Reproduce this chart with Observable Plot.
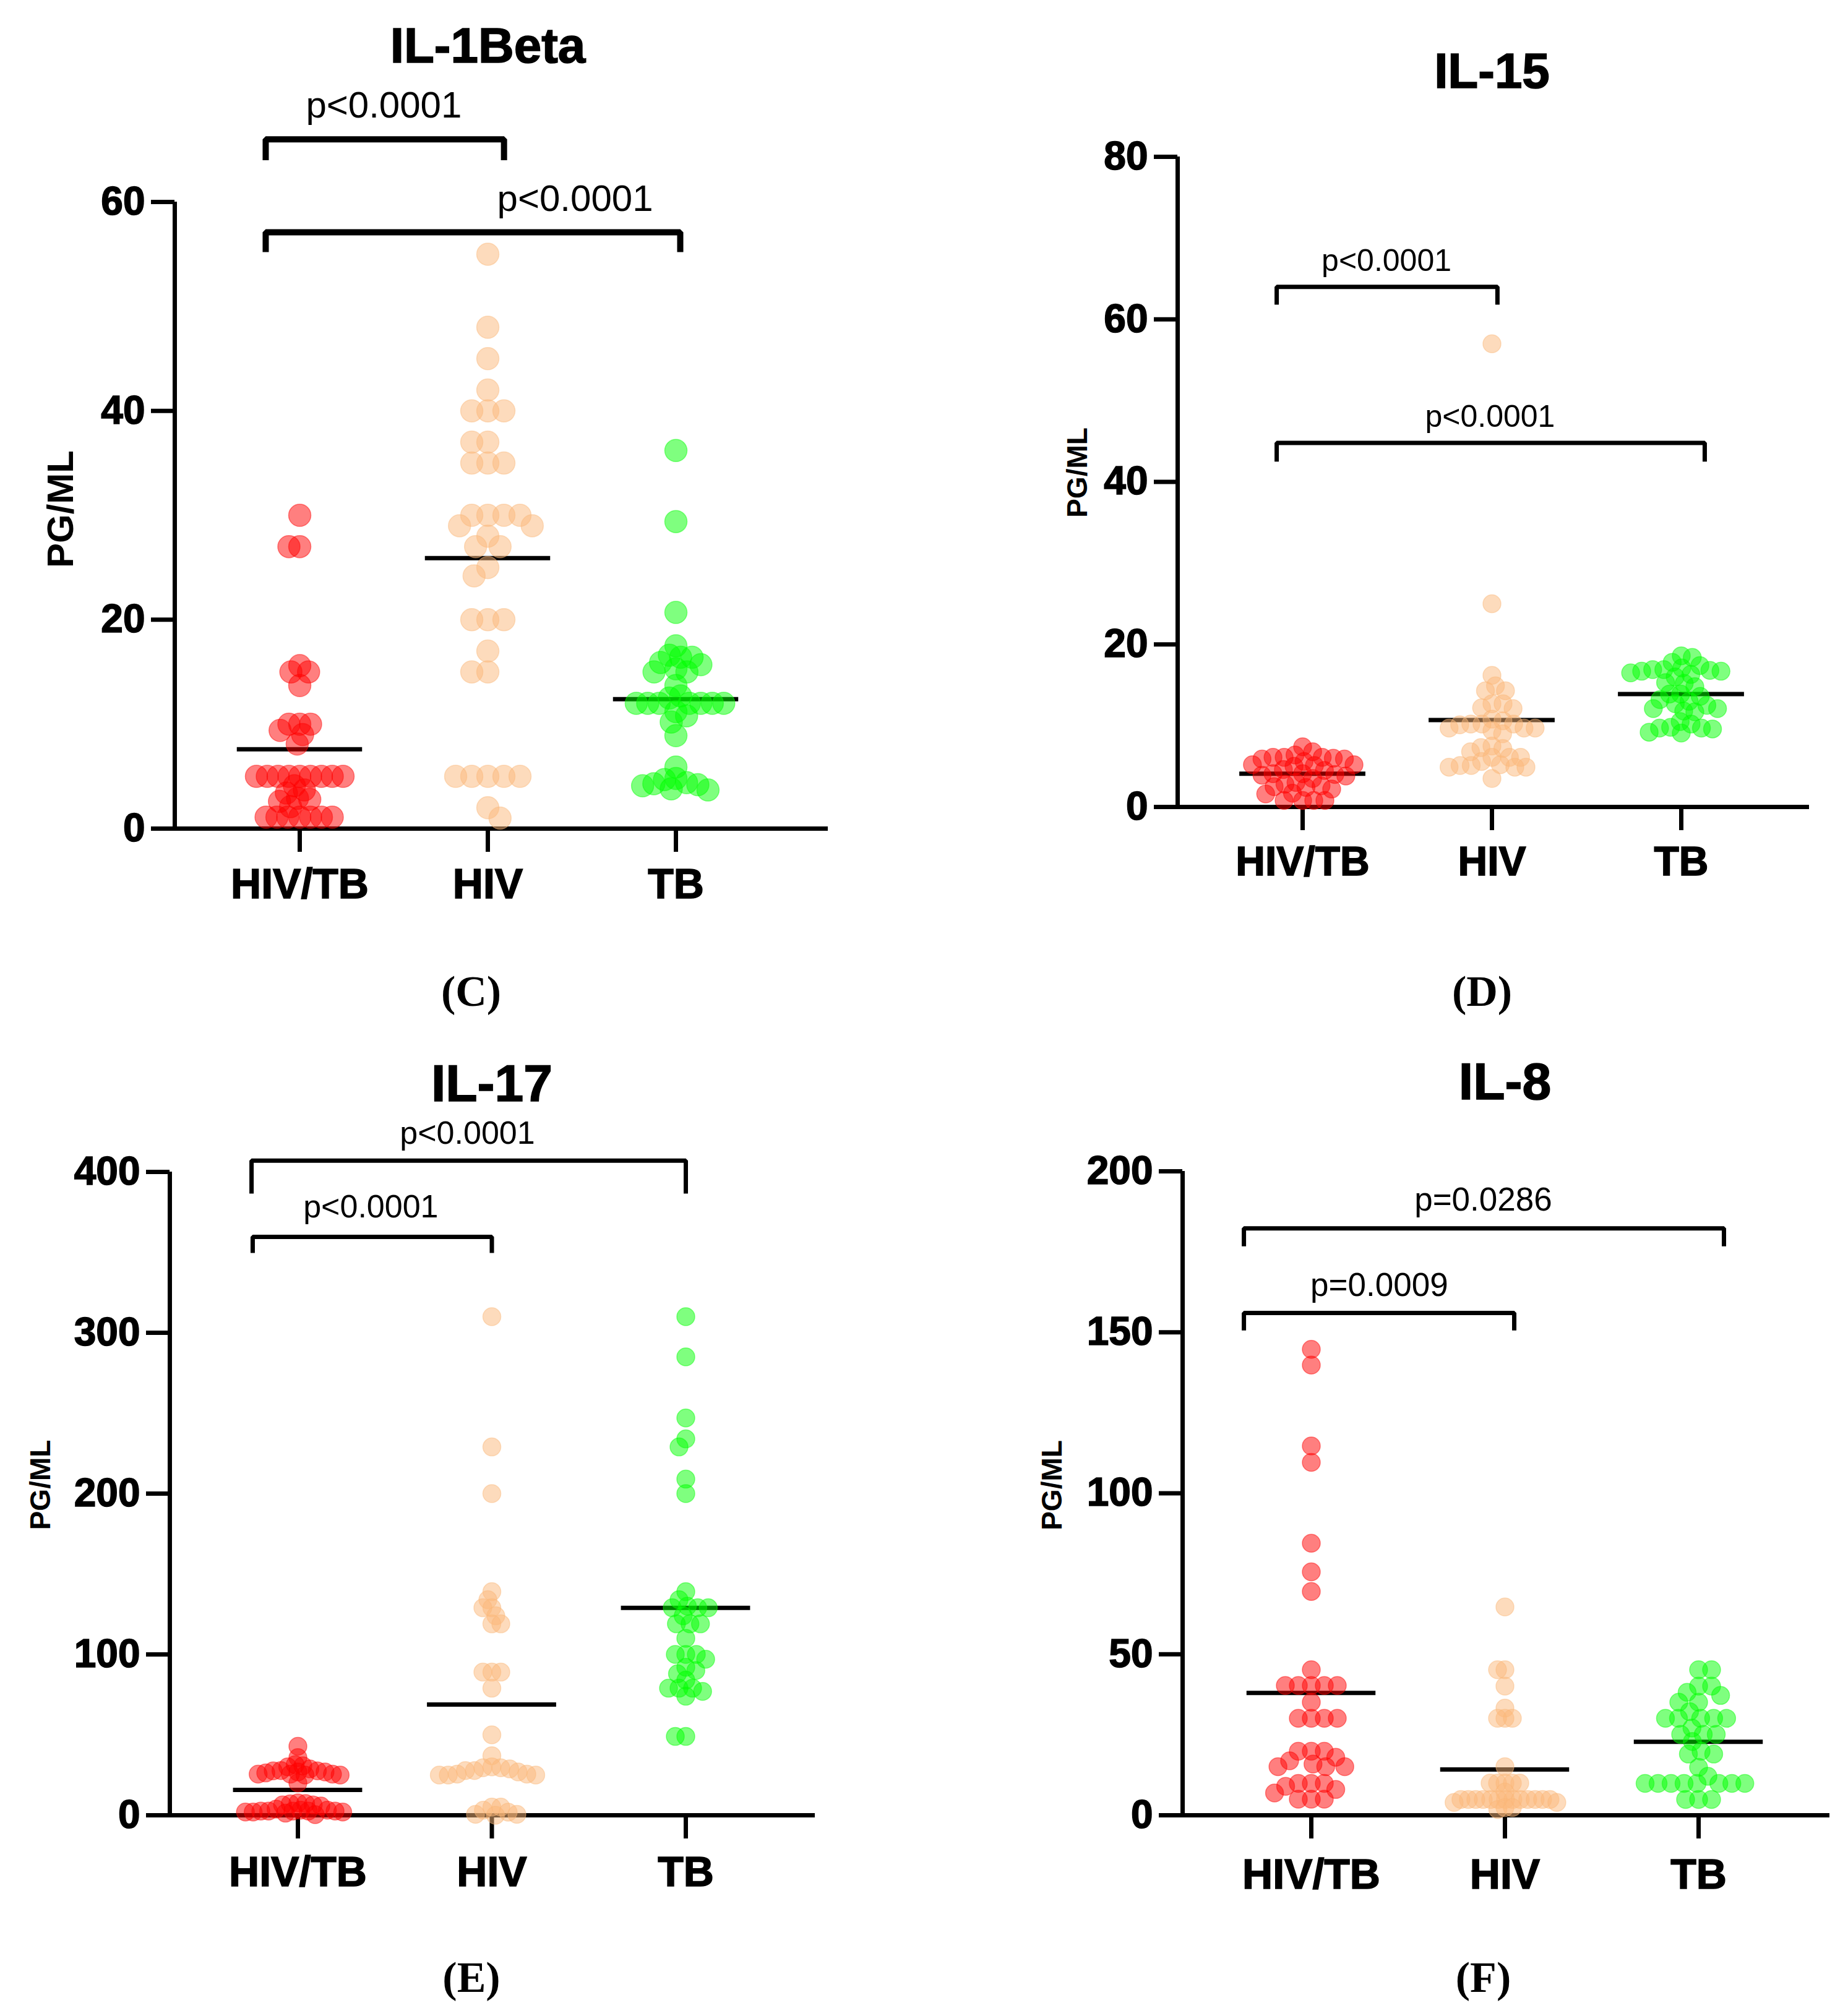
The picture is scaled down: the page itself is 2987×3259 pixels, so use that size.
<!DOCTYPE html>
<html>
<head>
<meta charset="utf-8">
<script src="https://cdn.jsdelivr.net/npm/d3@7"></script>
<script src="https://cdn.jsdelivr.net/npm/@observablehq/plot@0.6"></script>
<style>
html, body { margin: 0; padding: 0; background: #fff; }
#root { position: relative; width: 2987px; height: 3259px; background: #fff; overflow: hidden; }
.panel { position: absolute; }
.panel svg { max-width: none !important; }
.panel svg g[aria-label="y-axis tick label"] text,
.panel svg g[aria-label="x-axis tick label"] text,
.panel svg g.heavy text { stroke: #000; stroke-width: 1.6px; paint-order: stroke; }
</style>
</head>
<body>
<div id="root"></div>
<script>
// ---------- categories & colours ----------
const groups = ["HIV/TB", "HIV", "TB"];
const groupColors = ["#FF0000", "#FBB779", "#00FF00"];

// ---------- (C) IL-1Beta ----------
const cTitle = "IL-1Beta";
const cYTicks = [0, 20, 40, 60];
const cHivTb = [30, 27, 27, 15.6, 15, 15, 13.7, 10, 10, 10, 9.4, 9, 8.1, 5, 5, 5, 5, 5, 5, 5, 5, 5, 4.1, 3.7, 3.4, 2.9, 2.8, 2.6, 2.1, 1.1, 1.1, 1.1, 1.1, 1.1, 1.1, 1.1];
const cHiv = [55, 48, 45, 42, 40, 40, 40, 37, 37, 35, 35, 35, 30, 30, 30, 30, 29, 29, 28, 27, 27, 25, 24.2, 20, 20, 20, 17, 15, 15, 5, 5, 5, 5, 5, 2, 1];
const cTb = [36.2, 29.4, 20.7, 17.5, 16.4, 16.4, 16.6, 15.7, 15.9, 15, 15, 15.3, 13.7, 12.7, 12.5, 12, 12, 12, 12, 12, 12, 12, 10.8, 11.2, 10.2, 8.9, 5.9, 4.8, 4.3, 4.2, 4.1, 4.4, 4.7, 3.8, 3.7];
const cMeans = [7.6, 25.9, 12.4];
const cBrackets = [
  {id: "c1", from: 0.819, to: 2.086, top: 66.0, leg: 64.0, label: "p<0.0001", lx: 1.447, ly: 69.2},
  {id: "c2", from: 0.819, to: 3.023, top: 57.1, leg: 55.2, label: "p<0.0001", lx: 2.464, ly: 60.3}
];

// ---------- (D) IL-15 ----------
const dTitle = "IL-15";
const dYTicks = [0, 20, 40, 60, 80];
const dHivTb = [7.4, 6.8, 6.4, 6.1, 6.1, 6.1, 6.0, 5.9, 5.9, 5.6, 5.2, 5.2, 5.1, 5.0, 4.6, 4.5, 4.1, 4.1, 4.0, 3.9, 3.8, 3.5, 3.0, 2.8, 2.6, 2.5, 2.4, 2.2, 1.7, 1.6, 0.8, 0.8, 0.8, 0.8];
const dHiv = [57, 25, 16.2, 14.9, 14.3, 14.3, 12.7, 12.7, 12.2, 12.1, 10.8, 10.6, 10.2, 10.2, 10.2, 10.1, 9.7, 9.7, 9.7, 9.4, 9.0, 7.5, 7.3, 7.2, 6.8, 6.1, 6.1, 6.1, 5.6, 5.2, 5.1, 5.1, 4.9, 4.9, 4.9, 3.5];
const dTb = [18.6, 18.4, 17.8, 17.4, 17.1, 16.9, 16.9, 16.8, 16.7, 16.7, 16.5, 16.3, 16.0, 15.3, 15.2, 14.8, 13.9, 13.9, 13.6, 13.2, 13.0, 12.7, 12.5, 12.1, 12.1, 11.8, 11.7, 10.5, 10.2, 9.8, 9.7, 9.7, 9.6, 9.2, 9.1];
const dMeans = [4.1, 10.7, 13.9];
const dBrackets = [
  {id: "d1", from: 0.863, to: 2.029, top: 64.0, leg: 61.8, label: "p<0.0001", lx: 1.443, ly: 67.2},
  {id: "d2", from: 0.863, to: 3.124, top: 44.8, leg: 42.5, label: "p<0.0001", lx: 1.99, ly: 48.0}
];

// ---------- (E) IL-17 ----------
const eTitle = "IL-17";
const eYTicks = [0, 100, 200, 300, 400];
const eHivTb = [42.9, 35.9, 31.4, 30.8, 30.1, 28.8, 27.8, 27.6, 27.6, 26.9, 26.9, 26.3, 25.6, 25.6, 25.6, 25.0, 25.0, 20.1, 7.7, 7.3, 7.1, 6.4, 6.4, 5.8, 3.8, 3.2, 3.2, 2.6, 2.6, 2.6, 2.6, 2.6, 2.0, 2.0, 2.0, 1.3, 0.4];
const eHiv = [310, 229, 200, 139, 134, 129, 129, 124, 119, 119, 89, 89, 89, 79, 50, 37, 30.1, 29.5, 29.5, 28.8, 27.8, 27.8, 26.9, 25.6, 25.6, 25, 25, 25, 5.1, 5.1, 3.2, 1.9, 0.6, 0.6, 0];
const eTb = [310, 285, 247, 234, 229, 209, 200, 139, 134, 130, 129, 129, 129, 124, 119, 119, 119, 110, 100, 100, 100, 97, 92, 90, 88, 84, 79, 79, 79, 77, 74, 49, 49];
const eMeans = [15.8, 68.8, 128.9];
const eBrackets = [
  {id: "e1", from: 0.761, to: 3.0, top: 407, leg: 386.5, label: "p<0.0001", lx: 1.874, ly: 423.8},
  {id: "e2", from: 0.767, to: 2.0, top: 359.6, leg: 349.6, label: "p<0.0001", lx: 1.376, ly: 378}
];

// ---------- (F) IL-8 ----------
const fTitle = "IL-8";
const fYTicks = [0, 50, 100, 150, 200];
const fHivTb = [144.7, 139.8, 114.7, 109.6, 84.5, 75.6, 69.5, 45.2, 40.3, 40.3, 40.3, 40.3, 40.3, 35.1, 30.1, 30.1, 30.1, 30.1, 19.9, 19.9, 19.9, 18.0, 16.9, 15.9, 15.1, 15.1, 15.1, 9.9, 9.9, 9.9, 9.0, 8.0, 6.9, 5.0, 5.0, 5.0];
const fHiv = [64.7, 45.2, 45.2, 40.1, 33.3, 30.1, 30.1, 30.1, 15.1, 10, 10, 10, 10, 10, 7.2, 4.9, 4.9, 4.9, 4.9, 4.9, 4.9, 4.9, 4.9, 4.9, 4.9, 4.9, 4.9, 4.9, 4.0, 4.0, 2.4, 2.4, 1.8];
const fTb = [45.2, 45.2, 40.1, 40.1, 38.2, 37.2, 35.1, 35.1, 32.2, 30.1, 30.1, 30.1, 30.1, 30.1, 27.1, 25.1, 25.1, 25.1, 22.9, 19.9, 19.0, 19.0, 14.9, 12.1, 9.9, 9.9, 9.9, 9.9, 9.9, 9.9, 9.9, 9.9, 4.9, 4.9, 4.9];
const fMeans = [38.0, 14.2, 22.8];
const fBrackets = [
  {id: "f1", from: 0.652, to: 3.131, top: 182.3, leg: 176.7, label: "p=0.0286", lx: 1.888, ly: 191},
  {id: "f2", from: 0.652, to: 2.048, top: 156, leg: 150.6, label: "p=0.0009", lx: 1.351, ly: 164.6}
];

// ---------- swarm layout (horizontal spreading of points with close values) ----------
function place(values, k, sep) {
  const idx = d3.range(values.length).sort((a, b) => values[b] - values[a]);
  const placed = [];
  const xs = new Array(values.length);
  let flip = 1;
  for (const i of idx) {
    const y = values[i] * k;
    const cands = [0];
    for (const p of placed) {
      const dy = y - p.y;
      if (Math.abs(dy) < sep) {
        const dx = Math.sqrt(sep * sep - dy * dy);
        cands.push(p.x + dx, p.x - dx);
      }
    }
    cands.sort((a, b) => (Math.abs(a) - Math.abs(b)) || (a - b) * flip);
    let x = cands.find(c => placed.every(p => (c - p.x) ** 2 + (y - p.y) ** 2 >= sep * sep - 1e-6));
    if (x === undefined) x = d3.max(cands);
    flip = -flip;
    placed.push({x, y});
    xs[i] = x;
  }
  return xs;
}
function swarm(values, k, sepMax, maxHalf) {
  for (let sep = sepMax; sep >= 4; sep -= 0.5) {
    const xs = place(values, k, sep);
    if (d3.max(xs, Math.abs) <= maxHalf) return xs;
  }
  return place(values, k, 4);
}

const FONT = "'Liberation Sans', Arial, Helvetica, sans-serif";

function panel(cfg) {
  const {left, top, width, height, frameL, frameR, frameT, frameB, cats, yMax, yTicks,
         series, means, brackets, title} = cfg;
  const step = (cats[2] - cats[0]) / 2;
  const xDomain = [1 - (cats[0] - frameL) / step, 3 + (frameR - cats[2]) / step];
  const mL = frameL - left, mR = left + width - frameR, mT = frameT - top, mB = top + height - frameB;
  const k = (frameB - frameT) / yMax;

  const dotMarks = series.map((vals, g) => {
    const offs = swarm(vals, k, cfg.sep, cfg.maxHalf);
    const pts = vals.map((v, j) => ({group: groups[g], pos: g + 1 + offs[j] / step, value: v}));
    return Plot.dot(pts, {x: "pos", y: "value", r: cfg.r, fill: groupColors[g], fillOpacity: 0.5,
      stroke: groupColors[g], strokeOpacity: 0.45, strokeWidth: 1.5});
  });

  const bracketPts = brackets.flatMap(b => [
    {id: b.id, x: b.from, y: b.leg}, {id: b.id, x: b.from, y: b.top},
    {id: b.id, x: b.to, y: b.top}, {id: b.id, x: b.to, y: b.leg}
  ]);

  const svg = Plot.plot({
    width, height,
    marginLeft: mL, marginRight: mR, marginTop: mT, marginBottom: mB,
    style: {fontFamily: FONT, background: "transparent", overflow: "visible"},
    x: {type: "linear", domain: xDomain},
    y: {type: "linear", domain: [0, yMax]},
    marks: [
      Plot.axisY({ticks: yTicks, tickSize: 38, tickPadding: 10, fontSize: cfg.tickFont, fontWeight: "bold",
        strokeWidth: 7, tickFormat: d3.format("d"), label: null}),
      Plot.axisX({ticks: [1, 2, 3], tickFormat: i => groups[i - 1], tickSize: 38, tickPadding: cfg.catPad,
        fontSize: cfg.catFont, fontWeight: "bold", strokeWidth: 7, label: null}),
      Plot.ruleY([0], {strokeWidth: 7}),
      Plot.ruleX([xDomain[0]], {y1: 0, y2: yMax, strokeWidth: 7}),
      Plot.line(bracketPts, {x: "x", y: "y", z: "id", stroke: "black", strokeWidth: cfg.bracketW,
        strokeLinejoin: "miter", strokeLinecap: "butt", curve: "linear"}),
      Plot.text(brackets, {x: "lx", y: "ly", text: "label", fontSize: cfg.pFont, fontWeight: "normal", fill: "black"}),
      Plot.ruleY(means, {y: d => d, x1: (d, i) => i + 1 - 0.333, x2: (d, i) => i + 1 + 0.333, strokeWidth: 7}),
      ...dotMarks,
      Plot.text([title], {text: d => d, x: () => 2, frameAnchor: "top", lineAnchor: "middle", dx: cfg.titleDx, dy: cfg.titleDy,
        fontSize: cfg.titleFont, fontWeight: "bold", fill: "black", className: "heavy"}),
      Plot.text(["PG/ML"], {text: d => d, frameAnchor: "left", textAnchor: "middle", lineAnchor: "middle", rotate: -90,
        dx: cfg.ylabDx, dy: cfg.ylabDy, fontSize: cfg.ylabFont, fontWeight: "bold", fill: "black"}),
      Plot.text([cfg.letter], {text: d => d, x: () => 2, frameAnchor: "bottom", lineAnchor: "middle", dx: cfg.letterDx, dy: cfg.letterDy,
        fontSize: 70, fontWeight: "bold", fontFamily: "'Liberation Serif', 'Times New Roman', serif", fill: "black"})
    ]
  });
  const div = document.createElement("div");
  div.className = "panel";
  div.style.left = left + "px";
  div.style.top = top + "px";
  div.style.width = width + "px";
  div.style.height = height + "px";
  div.appendChild(svg);
  document.getElementById("root").appendChild(div);
}

panel({
  left: 0, top: 0, width: 1490, height: 1640,
  frameL: 282, frameR: 1338, frameT: 326, frameB: 1339, cats: [484, 788, 1092],
  yMax: 60, yTicks: cYTicks, series: [cHivTb, cHiv, cTb], means: cMeans, brackets: cBrackets,
  title: cTitle, letter: "(C)", r: 18, sep: 26, maxHalf: 80,
  tickFont: 64, catFont: 68, catPad: 26, pFont: 60, bracketW: 10, titleFont: 80,
  titleDx: 0, titleDy: -251, ylabDx: -184, ylabDy: -10, ylabFont: 60, letterDx: -27, letterDy: 264
});
panel({
  left: 1500, top: 0, width: 1487, height: 1640,
  frameL: 1903, frameR: 2924, frameT: 253, frameB: 1304, cats: [2105, 2411, 2717],
  yMax: 80, yTicks: dYTicks, series: [dHivTb, dHiv, dTb], means: dMeans, brackets: dBrackets,
  title: dTitle, letter: "(D)", r: 14.5, sep: 18, maxHalf: 85,
  tickFont: 64, catFont: 66, catPad: 26, pFont: 50, bracketW: 7, titleFont: 80,
  titleDx: 0, titleDy: -137, ylabDx: -161, ylabDy: -15, ylabFont: 46, letterDx: -16, letterDy: 299
});
panel({
  left: 0, top: 1640, width: 1490, height: 1619,
  frameL: 274, frameR: 1317, frameT: 1894, frameB: 2934, cats: [481, 794.5, 1108],
  yMax: 400, yTicks: eYTicks, series: [eHivTb, eHiv, eTb], means: eMeans, brackets: eBrackets,
  title: eTitle, letter: "(E)", r: 14.5, sep: 17, maxHalf: 85,
  tickFont: 64, catFont: 68, catPad: 28, pFont: 52, bracketW: 7, titleFont: 84,
  titleDx: 0, titleDy: -141, ylabDx: -208, ylabDy: -14, ylabFont: 46, letterDx: -33, letterDy: 263
});
panel({
  left: 1500, top: 1640, width: 1487, height: 1619,
  frameL: 1911, frameR: 2957, frameT: 1893, frameB: 2934, cats: [2119, 2432, 2745],
  yMax: 200, yTicks: fYTicks, series: [fHivTb, fHiv, fTb], means: fMeans, brackets: fBrackets,
  title: fTitle, letter: "(F)", r: 14.5, sep: 21, maxHalf: 90,
  tickFont: 64, catFont: 68, catPad: 32, pFont: 53, bracketW: 7, titleFont: 84,
  titleDx: 0, titleDy: -143, ylabDx: -210, ylabDy: -13, ylabFont: 46, letterDx: -35, letterDy: 263
});
</script>
</body>
</html>
